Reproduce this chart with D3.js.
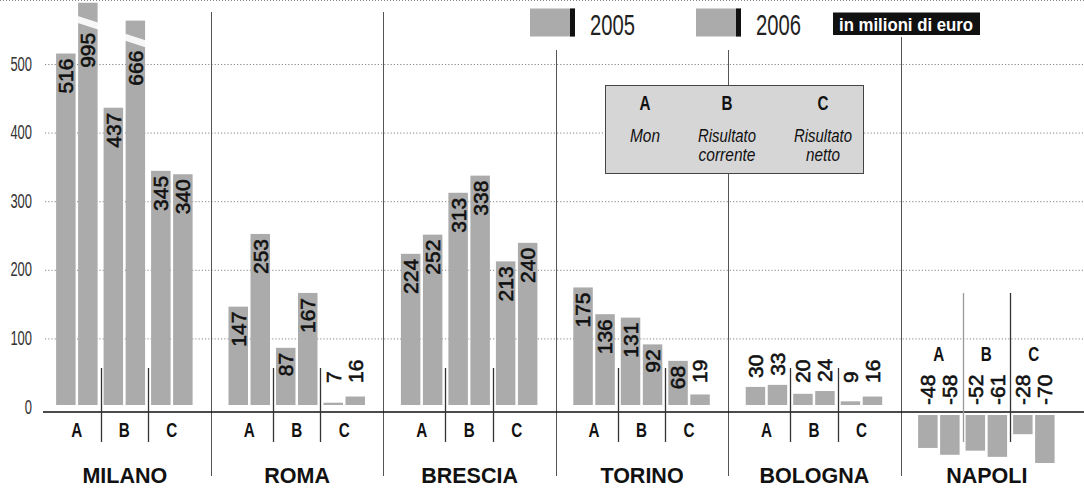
<!DOCTYPE html>
<html><head><meta charset="utf-8">
<script src="https://cdn.jsdelivr.net/npm/d3@7"></script>
<style>
html,body{margin:0;padding:0;background:#fff;}
svg{display:block;}
</style></head>
<body>
<svg id="chart" width="1084" height="488"></svg>
<script>
// ---- data ----
const cities = ["MILANO", "ROMA", "BRESCIA", "TORINO", "BOLOGNA", "NAPOLI"];
const groups = ["A", "B", "C"];
const years = ["2005", "2006"];
const values2005 = [[516, 437, 345], [147, 87, 7], [224, 313, 213], [175, 131, 68], [30, 20, 9], [-48, -52, -28]];
const values2006 = [[995, 666, 340], [253, 167, 16], [252, 338, 240], [136, 92, 19], [33, 24, 16], [-58, -61, -70]];
const yTicks = [0, 100, 200, 300, 400, 500];
const groupTitles = [["Mon"], ["Risultato", "corrente"], ["Risultato", "netto"]];
const unitLabel = "in milioni di euro";
// broken bars: value -> value up to which the bar is drawn
const brokenShown = {995: 590, 666: 564};

// ---- styles ----
const W = 1084, H = 488;
const barFill = "#ababab";
const svg = d3.select("#chart");
const narrow = "'Liberation Sans Narrow', 'Liberation Sans', Arial, sans-serif";

const x0 = d3.scaleBand().domain(cities).range([38.6, 38.6 + 6 * 172.4]).padding(0);
const x1 = d3.scaleBand().domain(groups).range([17.5, 154]).paddingInner(0.1263).paddingOuter(0);
const x2 = d3.scaleBand().domain(years).range([0, 41.5]).paddingInner(0.115).paddingOuter(0);
const y = d3.scaleLinear().domain([0, 500]).range([407.5, 64.5]);

const barBase = y(0) - 2.5;
const negBase = y(0) + 7.5;
const axisY = 412;

// top dotted border
svg.append("line").attr("x1", 0).attr("x2", W).attr("y1", 0.5).attr("y2", 0.5)
  .attr("stroke", "#888").attr("stroke-dasharray", "1,2");

// gridlines
svg.append("g").selectAll("line").data(yTicks.filter(t => t > 0)).join("line")
  .attr("x1", 45).attr("x2", W).attr("y1", d => y(d)).attr("y2", d => y(d))
  .attr("stroke", "#888").attr("stroke-width", 1).attr("stroke-dasharray", "1.2,2");

// y tick labels
svg.append("g").selectAll("text").data(yTicks).join("text")
  .attr("x", 32).attr("y", d => y(d) + 6)
  .attr("text-anchor", "end")
  .attr("font-family", narrow)
  .attr("font-size", 20).attr("fill", "#333")
  .attr("textLength", d => String(d).length * 7.2).attr("lengthAdjust", "spacingAndGlyphs")
  .text(d => d);

// city separators
const sepTop = [12, 12, 50, 50, 37];
svg.append("g").selectAll("line").data(cities.slice(1)).join("line")
  .attr("x1", d => Math.round(x0(d)) + 0.5).attr("x2", d => Math.round(x0(d)) + 0.5)
  .attr("y1", (d, i) => sepTop[i]).attr("y2", 476)
  .attr("stroke", "#555").attr("stroke-width", 1);

// rows
const rows = [];
cities.forEach((c, i) => groups.forEach((g, j) => years.forEach((yr, k) => {
  const v = (k === 0 ? values2005 : values2006)[i][j];
  rows.push({city: c, group: g, year: yr, value: v, shown: brokenShown[v] !== undefined ? brokenShown[v] : v, broken: brokenShown[v] !== undefined});
})));
const bx = d => x0(d.city) + x1(d.group) + x2(d.year);
const bw = x2.bandwidth();

// bars
svg.append("g").selectAll("rect").data(rows).join("rect")
  .attr("x", d => bx(d)).attr("width", bw)
  .attr("y", d => d.value >= 0 ? y(d.shown) : negBase)
  .attr("height", d => d.value >= 0 ? Math.max(1.5, barBase - y(d.shown)) : (y(d.value) - y(0)))
  .attr("fill", barFill);

// break stripes
svg.append("g").selectAll("polygon").data(rows.filter(d => d.broken)).join("polygon")
  .attr("points", d => {
    const l = bx(d) - 1, r = bx(d) + bw + 1, t = y(d.shown);
    return `${l},${t + 13} ${r},${t + 20} ${r},${t + 27} ${l},${t + 20}`;
  })
  .attr("fill", "#fff").attr("opacity", 0.9);

// value labels
const fs = 21;
const inside = d => (barBase - y(d.value)) > String(d.value).length * fs * 0.556 + 12;
svg.append("g").selectAll("text").data(rows).join("text")
  .attr("transform", d => {
    const cx = bx(d) + bw / 2;
    let ay;
    if (d.value < 0) ay = 405;
    else if (d.broken) ay = y(d.shown) + 30;
    else if (inside(d)) ay = y(d.value) + 5;
    else ay = Math.min(y(d.value) - 9, 383);
    return `translate(${cx},${ay}) rotate(-90)`;
  })
  .attr("text-anchor", d => {
    if (d.value < 0) return "start";
    if (d.broken) return "end";
    return inside(d) ? "end" : "start";
  })
  .attr("dy", "0.35em")
  .attr("font-family", "'Liberation Sans', Arial, sans-serif")
  .attr("font-size", fs).attr("fill", "#111")
  .attr("stroke", "#111").attr("stroke-width", 0.6)
  .text(d => d.value);

// axis line
svg.append("line").attr("x1", 43).attr("x2", W).attr("y1", axisY).attr("y2", axisY)
  .attr("stroke", "#111").attr("stroke-width", 1.5);

// group separators and letters
const groupSeps = [];
cities.forEach((c, i) => groups.slice(1).forEach((g, j) => {
  groupSeps.push({city: c, group: g, napoli: c === "NAPOLI", j});
}));
svg.append("g").selectAll("line").data(groupSeps).join("line")
  .attr("x1", d => Math.round(x0(d.city) + x1(d.group) - 3) + 0.5)
  .attr("x2", d => Math.round(x0(d.city) + x1(d.group) - 3) + 0.5)
  .attr("y1", d => d.napoli ? 293 : 368).attr("y2", 442)
  .attr("stroke", d => d.napoli && d.j === 0 ? "#999" : "#333").attr("stroke-width", 1.3);

const letters = [];
cities.forEach(c => groups.forEach(g => letters.push({city: c, group: g})));
svg.append("g").selectAll("text").data(letters).join("text")
  .attr("x", d => x0(d.city) + x1(d.group) + x1.bandwidth() / 2 - 5.5)
  .attr("y", d => d.city === "NAPOLI" ? 361 : 437)
  .attr("font-family", narrow).attr("font-weight", "bold")
  .attr("font-size", 19.5).attr("fill", "#111")
  .attr("textLength", 11).attr("lengthAdjust", "spacingAndGlyphs")
  .text(d => d.group);

// city labels
svg.append("g").selectAll("text").data(cities).join("text")
  .attr("x", d => x0(d) + x0.bandwidth() / 2).attr("y", 483)
  .attr("text-anchor", "middle")
  .attr("font-family", "'Liberation Sans', Arial, sans-serif").attr("font-weight", "bold")
  .attr("font-size", 21.5).attr("fill", "#111")
  .text(d => d);

// legend years
const legX = {"2005": 530, "2006": 696};
years.forEach(yr => {
  const lx = legX[yr];
  svg.append("rect").attr("x", lx).attr("y", 8.5).attr("width", 45).attr("height", 28).attr("fill", barFill);
  svg.append("rect").attr("x", lx + 40).attr("y", 8.5).attr("width", 5).attr("height", 28).attr("fill", "#111");
  svg.append("text").attr("x", lx + 60).attr("y", 35)
    .attr("font-family", narrow).attr("font-size", 30).attr("fill", "#222")
    .attr("textLength", 45).attr("lengthAdjust", "spacingAndGlyphs").text(yr);
});
svg.append("rect").attr("x", 833).attr("y", 12.5).attr("width", 147).attr("height", 22.5).attr("fill", "#111");
svg.append("text").attr("x", 839).attr("y", 30.5)
  .attr("font-family", narrow).attr("font-weight", "bold")
  .attr("font-size", 19).attr("fill", "#fff")
  .attr("textLength", 134).attr("lengthAdjust", "spacingAndGlyphs").text(unitLabel);

// group legend box
svg.append("rect").attr("x", 605.5).attr("y", 85.5).attr("width", 258).attr("height", 88)
  .attr("fill", "#d6d6d6").attr("stroke", "#444").attr("stroke-width", 1);
const boxCx = [645, 727, 823];
const titleW = {"Mon": 30, "Risultato": 58, "corrente": 57, "netto": 34};
groups.forEach((g, j) => {
  svg.append("text").attr("x", boxCx[j] - 5.5).attr("y", 110)
    .attr("font-family", narrow).attr("font-weight", "bold")
    .attr("font-size", 19.5).attr("fill", "#111")
    .attr("textLength", 11).attr("lengthAdjust", "spacingAndGlyphs").text(g);
  groupTitles[j].forEach((t, k) => {
    svg.append("text").attr("x", boxCx[j] - titleW[t] / 2).attr("y", 141.5 + k * 19)
      .attr("font-family", narrow).attr("font-style", "italic")
      .attr("font-size", 18).attr("fill", "#111")
      .attr("textLength", titleW[t]).attr("lengthAdjust", "spacingAndGlyphs").text(t);
  });
});
</script>
</body></html>
